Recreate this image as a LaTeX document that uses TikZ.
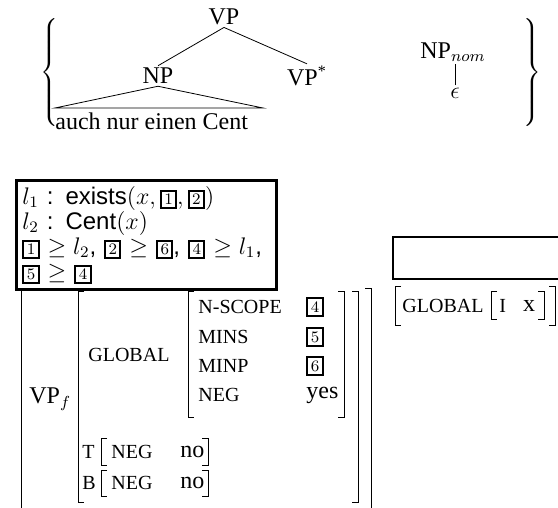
\documentclass[tikz,border=0pt]{standalone}
\usepackage{fontspec}
\setmainfont{Liberation Serif}
\setsansfont{Liberation Sans}
\newcommand{\tagnum}[1]{{\setlength{\fboxsep}{1.2pt}\setlength{\fboxrule}{1pt}\fbox{$\scriptstyle #1$}}}
\newcommand{\attr}[1]{{\fontsize{10}{12}\selectfont #1}}
\newcommand{\lbrk}[3]{\draw[brk] (#1+6,#2) -| (#1,#3) -- ++(6,0);}
\newcommand{\rbrk}[3]{\draw[brk] (#1-6,#2) -| (#1,#3) -- ++(-6,0);}

\begin{document}
\begin{tikzpicture}[x=0.5pt,y=-0.5pt,font=\fontsize{12}{14}\selectfont,
  brk/.style={line width=0.5pt},
  tree/.style={inner sep=1pt},
  attrnode/.style={anchor=west,inner sep=1pt}]
\clip (0,0) rectangle (558,508);

\node[inner sep=0pt] (lbrace) at (51,75) {$\left\{\vrule height 26pt depth 26pt width 0pt\right.$};
\node[inner sep=0pt] (rbrace) at (531,75) {$\left.\vrule height 26pt depth 26pt width 0pt\right\}$};

\node[tree] (vp) at (224,17) {VP};
\node[tree] (np) at (158,76) {NP};
\node[tree] (vpstar) at (307,76) {VP\textsuperscript{*}};
\node[anchor=west,inner sep=0pt] (cent) at (55,121) {auch nur einen Cent};
\coordinate (triL) at (55,108);
\coordinate (triR) at (263,108);
\draw (vp.south) -- (np.north);
\draw (vp.south) -- (vpstar.north);
\draw (np.south) -- (triL) -- (triR) -- cycle;

\node[tree] (npnom) at (453,52) {NP$_{nom}$};
\node[tree] (eps) at (455,93) {$\epsilon$};
\draw (eps.north) -- (eps.north |- npnom.south);

\node[draw,line width=1.4pt,anchor=north west,align=left,inner sep=3pt,
  text width=124pt,font=\sffamily\fontsize{12}{12.5}\selectfont] (constr) at (15,179)
  {\lineskiplimit=-20pt\relax
   $l_1$ : exists$(x, \tagnum{1}, \tagnum{2})$\\
   $l_2$ : Cent$(x)$\\
   \tagnum{1} $\geq l_2$, \tagnum{2} $\geq$ \tagnum{6}, \tagnum{4} $\geq l_1$,\\
   \tagnum{5} $\geq$ \tagnum{4}};

\node[attrnode] (vpf) at (27,399) {VP$_f$};
\node[attrnode] (global) at (86,355) {\attr{GLOBAL}};
\node[attrnode] (nscope) at (196,307) {\attr{N-SCOPE}};
\node[attrnode] (mins) at (196,337) {\attr{MINS}};
\node[attrnode] (minp) at (196,366) {\attr{MINP}};
\node[attrnode] (neg) at (196,395) {\attr{NEG}};
\node[attrnode] (v4) at (304,307) {\tagnum{4}};
\node[attrnode] (v5) at (304,337) {\tagnum{5}};
\node[attrnode] (v6) at (304,366) {\tagnum{6}};
\node[attrnode] (vyes) at (304,395) {yes};
\node[attrnode] (t) at (80,452) {\attr{T}};
\node[attrnode] (tneg) at (109,452) {\attr{NEG}};
\node[attrnode] (tno) at (178,452) {no};
\node[attrnode] (b) at (80,483) {\attr{B}};
\node[attrnode] (bneg) at (109,483) {\attr{NEG}};
\node[attrnode] (bno) at (178,483) {no};

\lbrk{21}{289}{520}
\lbrk{78}{292}{502}
\lbrk{188}{292}{418}
\rbrk{344}{292}{418}
\rbrk{358}{292}{502}
\rbrk{371}{289}{520}
\lbrk{101}{439}{465}
\rbrk{208}{439}{465}
\lbrk{101}{470}{496}
\rbrk{208}{470}{496}

\draw[line width=1.4pt] (620,237) -- (393,237) -- (393,279) -- (620,279);
\node[attrnode] (rglobal) at (400,306) {\attr{GLOBAL}};
\node[attrnode] (ri) at (497,306) {\attr{I}};
\node (rx) at (529,306) {x};
\lbrk{395}{287}{326}
\lbrk{491}{292}{320}
\rbrk{544}{292}{320}
\rbrk{555}{287}{326}
\end{tikzpicture}
\end{document}
